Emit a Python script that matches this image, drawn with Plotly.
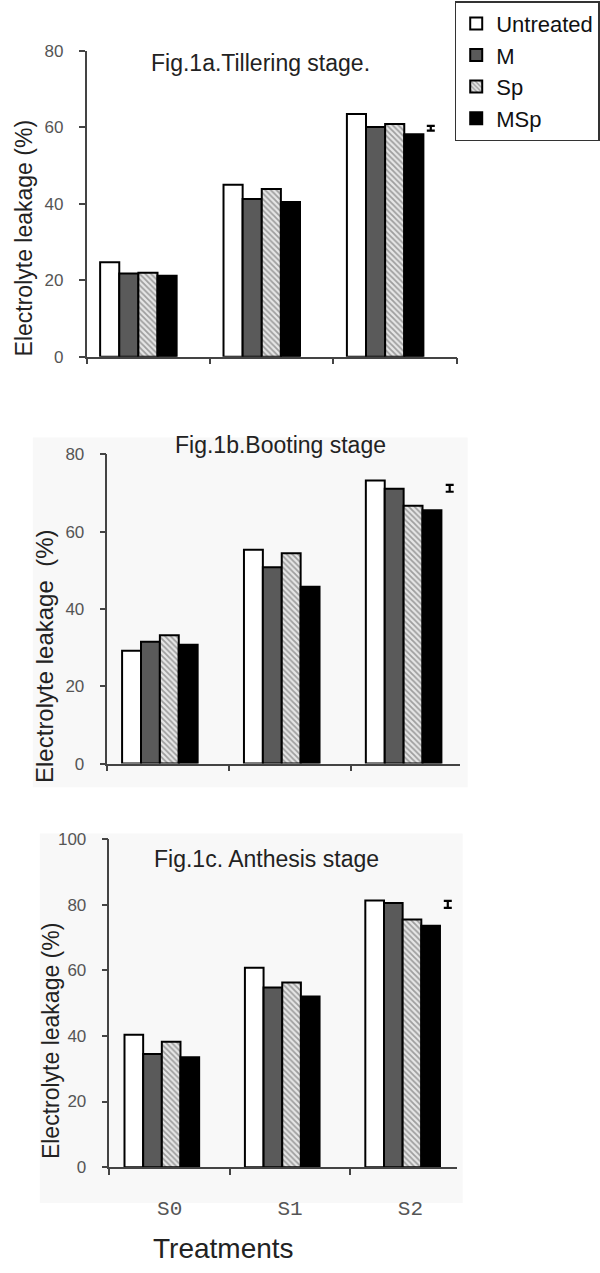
import plotly.graph_objects as go

# ---------------- data ----------------
categories = ["S0", "S1", "S2"]
series_names = ["Untreated", "M", "Sp", "MSp"]

tillering = {
    "Untreated": [24.7, 45.0, 63.5],
    "M": [21.8, 41.3, 60.1],
    "Sp": [22.0, 43.9, 60.9],
    "MSp": [21.2, 40.5, 58.2],
}
booting = {
    "Untreated": [29.2, 55.3, 73.2],
    "M": [31.5, 50.8, 71.1],
    "Sp": [33.2, 54.4, 66.7],
    "MSp": [30.7, 45.7, 65.5],
}
anthesis = {
    "Untreated": [40.4, 60.8, 81.3],
    "M": [34.5, 54.8, 80.5],
    "Sp": [38.2, 56.3, 75.5],
    "MSp": [33.5, 52.0, 73.6],
}
lsd_center = [59.8, 71.2, 80.1]
lsd_half = [0.6, 0.9, 1.05]

titles = ["Fig.1a.Tillering stage.", "Fig.1b.Booting stage", "Fig.1c. Anthesis stage"]
ytitles = ["Electrolyte leakage (%)", "Electrolyte leakage  (%)", "Electrolyte leakage (%)"]
xtitle = "Treatments"
y_ranges = [[0, 80], [0, 80], [0, 100]]

# ---------------- styling / layout ----------------
W, H = 600, 1273
FONT = "Liberation Sans, Arial, sans-serif"

styles = {
    "Untreated": dict(color="white", line=dict(color="black", width=2)),
    "M": dict(color="#5a5a5a", line=dict(color="black", width=2)),
    "Sp": dict(color="#d8d8d8", line=dict(color="black", width=2),
               pattern=dict(shape="\\", fgcolor="#555555", bgcolor="#e6e6e6", size=4, solidity=0.45)),
    "MSp": dict(color="black", line=dict(color="black", width=2)),
}

# panel geometry in pixels: (x_left, x_right, y_zero, y_top)
panels_px = [(87, 459, 353, 42.7), (108, 462, 766, 452), (110, 459, 1175.7, 842.7)]
x_range_end = [2.5, 2.39, 2.384]
group_shift = [-0.08, -0.07, -0.065]
lsd_xpos = [2.29, 2.308, 2.31]
bar_w = 0.155
title_px = [(262, 55), (282, 443), (268, 863)]
ytitle_px = [(24, 232, 23), (44, 657, 24), (52, 1047, 23)]

datasets = [tillering, booting, anthesis]

fig = go.Figure()
for p, data in enumerate(datasets):
    xa = "x" if p == 0 else f"x{p+1}"
    ya = "y" if p == 0 else f"y{p+1}"
    for i, name in enumerate(series_names):
        off = group_shift[p] - 2 * bar_w + i * bar_w
        fig.add_trace(go.Bar(
            x=list(range(len(categories))), y=data[name], name=name,
            width=bar_w, offset=off, marker=styles[name],
            showlegend=(p == 0),
            xaxis=xa, yaxis=ya, hoverinfo="y+name",
        ))
    fig.add_trace(go.Scatter(
        x=[lsd_xpos[p]], y=[lsd_center[p]], mode="markers",
        marker=dict(size=1, color="black", opacity=0),
        error_y=dict(type="data", array=[lsd_half[p]], color="black", thickness=2.2, width=4),
        showlegend=False, xaxis=xa, yaxis=ya, hoverinfo="skip",
    ))

layout = dict(
    width=W, height=H, margin=dict(l=0, r=0, t=0, b=0),
    paper_bgcolor="white", plot_bgcolor="rgba(0,0,0,0)",
    font=dict(family=FONT, color="#222"),
    barmode="overlay",
    legend=dict(x=457 / W, y=1 + 8 / H, xanchor="left", yanchor="top",
                bgcolor="white", bordercolor="#333", borderwidth=1.5,
                font=dict(size=22, color="#111", family=FONT),
                itemwidth=30, tracegroupgap=0),
    annotations=[], shapes=[],
)

for p in range(3):
    xl, xr, y0, yt = panels_px[p]
    sfx = "" if p == 0 else str(p + 1)
    anchor_x = "x" + sfx
    anchor_y = "y" + sfx
    last = p == 2
    layout["xaxis" + sfx] = dict(
        domain=[xl / W, xr / W], range=[-0.5, x_range_end[p]], anchor=anchor_y,
        showgrid=False, zeroline=False, showline=True, linecolor="#444", linewidth=1.5,
        tickvals=list(range(len(categories))), ticktext=categories, ticks="",
        showticklabels=last, ticklabelstandoff=21,
        tickfont=dict(family="Liberation Mono, Courier New, monospace", size=21, color="#555"),
        minor=dict(tickvals=[-0.5, 0.5, 1.5, 2.5], ticks="outside", ticklen=6,
                   tickwidth=1.5, tickcolor="#444", showgrid=False),
        fixedrange=True,
    )
    layout["yaxis" + sfx] = dict(
        domain=[1 - y0 / H, 1 - yt / H], range=y_ranges[p], anchor=anchor_x,
        showgrid=False, zeroline=False, showline=True, linecolor="#444", linewidth=1.5,
        ticks="outside", ticklen=6, tickwidth=1.5, tickcolor="#444",
        dtick=20, tickfont=dict(size=17, color="#555", family=FONT),
        ticklabelstandoff=12, fixedrange=True,
    )
    tx, ty = title_px[p]
    layout["annotations"].append(dict(
        text=titles[p], x=tx / W, y=1 - ty / H, xref="paper", yref="paper",
        xanchor="center", yanchor="middle", showarrow=False,
        font=dict(size=23, color="#222", family=FONT)))
    yx, yy, ys = ytitle_px[p]
    layout["annotations"].append(dict(
        text=ytitles[p], x=yx / W, y=1 - yy / H, xref="paper", yref="paper",
        xanchor="center", yanchor="middle", showarrow=False, textangle=-90,
        font=dict(size=ys, color="#222", family=FONT)))

layout["annotations"].append(dict(
    text=xtitle, x=225 / W, y=1 - 1258 / H, xref="paper", yref="paper",
    xanchor="center", yanchor="middle", showarrow=False,
    font=dict(size=28, color="#222", family=FONT)))

# faint grey backdrop of the scanned panels
for (x0, y0, x1, y1) in [(33, 435, 470, 790), (40, 837, 465, 1212)]:
    layout["shapes"].append(dict(type="rect", xref="paper", yref="paper",
                                 x0=x0 / W, x1=x1 / W, y0=1 - y1 / H, y1=1 - y0 / H,
                                 fillcolor="#f8f8f8", line=dict(width=0), layer="below"))

fig.update_layout(**layout)
fig.write_html("out.html")
